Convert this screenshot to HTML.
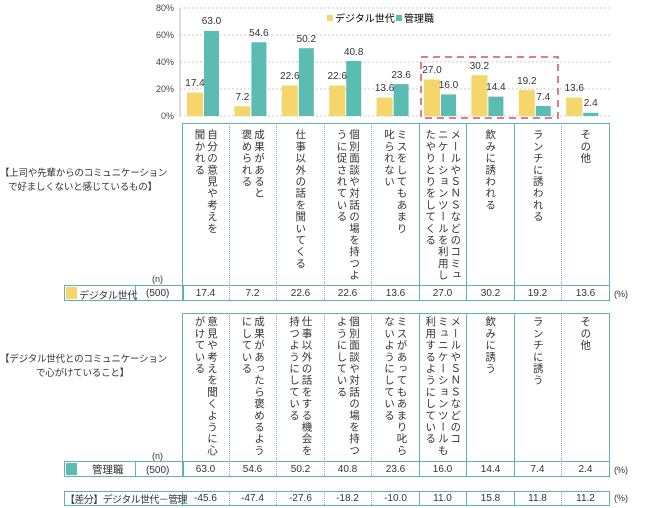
<!DOCTYPE html>
<html><head><meta charset="utf-8"><style>
body{margin:0;width:652px;height:508px;background:#fff;position:relative;overflow:hidden;font-family:"Liberation Sans","Noto Sans CJK JP",sans-serif;color:#333}
.a{position:absolute;white-space:nowrap}
.v{position:absolute;display:flex;justify-content:center;font-size:10.5px}
.v div{writing-mode:vertical-rl;letter-spacing:1.2px;line-height:12.5px;white-space:nowrap}
.c{position:absolute;font-size:10px;text-align:center;width:47px}
.bl{position:absolute;border-left:1px solid #5fb5ad}
.dl{position:absolute;border-left:1px dotted #8ab}
.box{position:absolute;border:1px solid #5fb5ad}
.lab{position:absolute;font-size:9.5px;text-align:center;line-height:14px;white-space:nowrap;letter-spacing:-0.2px}
</style></head><body>
<svg class="a" style="left:0;top:0" width="652" height="125" font-family="Liberation Sans, Noto Sans CJK JP, sans-serif">
<g stroke="#ccc" stroke-dasharray="2,2"><line x1="180" x2="610" y1="8" y2="8"/><line x1="180" x2="610" y1="35" y2="35"/><line x1="180" x2="610" y1="62" y2="62"/><line x1="180" x2="610" y1="89" y2="89"/><line x1="180" x2="610" y1="116" y2="116"/></g>
<line x1="180" x2="180" y1="8" y2="116" stroke="#bbb"/>
<g font-size="9" fill="#444" text-anchor="end"><text x="174" y="11">80%</text><text x="174" y="38">60%</text><text x="174" y="65">40%</text><text x="174" y="92">20%</text><text x="174" y="119">0%</text></g>
<g fill="#f5d66b">
<rect x="187" y="92.5" width="16" height="23.5"/><rect x="234.4" y="106.3" width="16" height="9.7"/><rect x="281.8" y="85.5" width="16" height="30.5"/><rect x="329.2" y="85.5" width="16" height="30.5"/><rect x="376.6" y="97.6" width="16" height="18.4"/><rect x="424" y="79.5" width="16" height="36.5"/><rect x="471.4" y="75.2" width="16" height="40.8"/><rect x="518.8" y="90.1" width="16" height="25.9"/><rect x="566.2" y="97.6" width="16" height="18.4"/></g>
<g fill="#5bbcb3">
<rect x="204" y="30.9" width="15" height="85.1"/><rect x="251.4" y="42.3" width="15" height="73.7"/><rect x="298.8" y="48.2" width="15" height="67.8"/><rect x="346.2" y="60.9" width="15" height="55.1"/><rect x="393.6" y="84.1" width="15" height="31.9"/><rect x="441" y="94.4" width="15" height="21.6"/><rect x="488.4" y="96.6" width="15" height="19.4"/><rect x="535.8" y="106" width="15" height="10"/><rect x="583.2" y="112.8" width="15" height="3.2"/></g>
<g font-size="10" fill="#333" text-anchor="middle">
<text x="195" y="86">17.4</text><text x="242.4" y="100">7.2</text><text x="289.8" y="79">22.6</text><text x="337.2" y="79">22.6</text><text x="384.6" y="91">13.6</text><text x="432" y="73">27.0</text><text x="479.4" y="69">30.2</text><text x="526.8" y="84">19.2</text><text x="574.2" y="91">13.6</text>
<text x="211.5" y="24">63.0</text><text x="258.9" y="36">54.6</text><text x="306.3" y="42">50.2</text><text x="353.7" y="55">40.8</text><text x="401.1" y="78">23.6</text><text x="448.5" y="88">16.0</text><text x="495.9" y="90">14.4</text><text x="543.3" y="100">7.4</text><text x="590.7" y="106">2.4</text></g>
<rect x="421" y="57" width="137" height="61" fill="none" stroke="#e07b8a" stroke-width="2" stroke-dasharray="7,5"/>
<rect x="327" y="15" width="6" height="6" fill="#f5d66b"/><text x="335" y="22" font-size="10">デジタル世代</text>
<rect x="396" y="15" width="6" height="6" fill="#5bbcb3"/><text x="404" y="22" font-size="10">管理職</text>
</svg>

<div class="lab" style="left:0;top:167px;width:165px">【上司や先輩からのコミュニケーション<br>で好ましくないと感じているもの】</div>
<div class="lab" style="left:0;top:353px;width:165px">【デジタル世代とのコミュニケーション<br>で心がけていること】</div>

<!-- table 1 -->
<div class="box" style="left:182px;top:123px;width:426px;height:176px"></div>
<div class="a" style="left:182px;top:285px;width:427px;border-top:1px solid #5fb5ad"></div>
<div class="box" style="left:64px;top:285px;width:118px;height:14px"></div>
<div class="a" style="left:66px;top:287px;width:11px;height:12px;background:#f5d66b"></div>
<div class="bl" style="left:135px;top:285px;height:15px"></div>
<div class="a" style="left:79px;top:287px;font-size:10px;letter-spacing:-0.3px">デジタル世代</div>
<div class="a" style="left:146px;top:288px;font-size:10px">(500)</div>
<div class="a" style="left:152px;top:274px;font-size:9px">(n)</div>
<div class="a" style="left:614px;top:289px;font-size:9px">(%)</div>

<!-- table 2 -->
<div class="box" style="left:182px;top:313px;width:426px;height:162px"></div>
<div class="a" style="left:182px;top:461px;width:427px;border-top:1px solid #5fb5ad"></div>
<div class="box" style="left:64px;top:461px;width:118px;height:14px"></div>
<div class="a" style="left:66px;top:463px;width:11px;height:12px;background:#5bbcb3"></div>
<div class="bl" style="left:135px;top:461px;height:15px"></div>
<div class="a" style="left:92px;top:462px;font-size:10.5px">管理職</div>
<div class="a" style="left:146px;top:465px;font-size:10px">(500)</div>
<div class="a" style="left:152px;top:451px;font-size:9px">(n)</div>
<div class="a" style="left:614px;top:465px;font-size:9px">(%)</div>

<!-- diff row -->
<div class="box" style="left:64px;top:491px;width:544px;height:13px"></div>
<div class="bl" style="left:182px;top:491px;height:14px"></div>
<div class="a" style="left:65px;top:491px;font-size:10px;letter-spacing:-0.6px">【差分】デジタル世代－管理</div>
<div class="a" style="left:614px;top:493px;font-size:9px">(%)</div>

<!-- column separators -->
<div class="dl" style="left:229px;top:123px;height:177px"></div><div class="dl" style="left:276px;top:123px;height:177px"></div><div class="dl" style="left:324px;top:123px;height:177px"></div><div class="dl" style="left:371px;top:123px;height:177px"></div><div class="bl" style="left:419px;top:123px;height:177px"></div><div class="bl" style="left:466px;top:123px;height:177px"></div><div class="bl" style="left:514px;top:123px;height:177px"></div><div class="dl" style="left:561px;top:123px;height:177px"></div>
<div class="dl" style="left:229px;top:313px;height:163px"></div><div class="dl" style="left:276px;top:313px;height:163px"></div><div class="dl" style="left:324px;top:313px;height:163px"></div><div class="dl" style="left:371px;top:313px;height:163px"></div><div class="bl" style="left:419px;top:313px;height:163px"></div><div class="bl" style="left:466px;top:313px;height:163px"></div><div class="bl" style="left:514px;top:313px;height:163px"></div><div class="dl" style="left:561px;top:313px;height:163px"></div>
<div class="dl" style="left:229px;top:491px;height:14px"></div><div class="dl" style="left:276px;top:491px;height:14px"></div><div class="dl" style="left:324px;top:491px;height:14px"></div><div class="dl" style="left:371px;top:491px;height:14px"></div><div class="bl" style="left:419px;top:491px;height:14px"></div><div class="bl" style="left:466px;top:491px;height:14px"></div><div class="bl" style="left:514px;top:491px;height:14px"></div><div class="dl" style="left:561px;top:491px;height:14px"></div>

<!-- vertical texts table1 -->
<div class="v" style="left:182px;top:129px;width:47px"><div>自分の意見や考えを<br>聞かれる</div></div>
<div class="v" style="left:229px;top:129px;width:47px"><div>成果があると<br>褒められる</div></div>
<div class="v" style="left:276px;top:129px;width:48px"><div>仕事以外の話を聞いてくる</div></div>
<div class="v" style="left:324px;top:129px;width:47px"><div>個別面談や対話の場を持つよ<br>うに促されている</div></div>
<div class="v" style="left:371px;top:129px;width:48px"><div>ミスをしてもあまり<br>叱られない</div></div>
<div class="v" style="left:419px;top:129px;width:47px"><div>メールやＳＮＳなどのコミュ<br>ニケーションツールを利用し<br>たやりとりをしてくる</div></div>
<div class="v" style="left:466px;top:129px;width:48px"><div>飲みに誘われる</div></div>
<div class="v" style="left:514px;top:129px;width:47px"><div>ランチに誘われる</div></div>
<div class="v" style="left:561px;top:129px;width:48px"><div>その他</div></div>

<!-- vertical texts table2 -->
<div class="v" style="left:182px;top:316px;width:47px"><div>意見や考えを聞くように心<br>がけている</div></div>
<div class="v" style="left:229px;top:316px;width:47px"><div>成果があったら褒めるよう<br>にしている</div></div>
<div class="v" style="left:276px;top:316px;width:48px"><div>仕事以外の話をする機会を<br>持つようにしている</div></div>
<div class="v" style="left:324px;top:316px;width:47px"><div>個別面談や対話の場を持つ<br>ようにしている</div></div>
<div class="v" style="left:371px;top:316px;width:48px"><div>ミスがあってもあまり叱ら<br>ないようにしている</div></div>
<div class="v" style="left:419px;top:316px;width:47px"><div>メールやＳＮＳなどのコ<br>ミュニケーションツールも<br>利用するようにしている</div></div>
<div class="v" style="left:466px;top:316px;width:48px"><div>飲みに誘う</div></div>
<div class="v" style="left:514px;top:316px;width:47px"><div>ランチに誘う</div></div>
<div class="v" style="left:561px;top:316px;width:48px"><div>その他</div></div>

<!-- values -->
<div class="c" style="left:182px;top:288px">17.4</div><div class="c" style="left:229px;top:288px">7.2</div><div class="c" style="left:277px;top:288px">22.6</div><div class="c" style="left:324px;top:288px">22.6</div><div class="c" style="left:372px;top:288px">13.6</div><div class="c" style="left:419px;top:288px">27.0</div><div class="c" style="left:467px;top:288px">30.2</div><div class="c" style="left:514px;top:288px">19.2</div><div class="c" style="left:562px;top:288px">13.6</div>
<div class="c" style="left:182px;top:464px">63.0</div><div class="c" style="left:229px;top:464px">54.6</div><div class="c" style="left:277px;top:464px">50.2</div><div class="c" style="left:324px;top:464px">40.8</div><div class="c" style="left:372px;top:464px">23.6</div><div class="c" style="left:419px;top:464px">16.0</div><div class="c" style="left:467px;top:464px">14.4</div><div class="c" style="left:514px;top:464px">7.4</div><div class="c" style="left:562px;top:464px">2.4</div>
<div class="c" style="left:182px;top:493px">-45.6</div><div class="c" style="left:229px;top:493px">-47.4</div><div class="c" style="left:277px;top:493px">-27.6</div><div class="c" style="left:324px;top:493px">-18.2</div><div class="c" style="left:372px;top:493px">-10.0</div><div class="c" style="left:419px;top:493px">11.0</div><div class="c" style="left:467px;top:493px">15.8</div><div class="c" style="left:514px;top:493px">11.8</div><div class="c" style="left:562px;top:493px">11.2</div>
</body></html>
